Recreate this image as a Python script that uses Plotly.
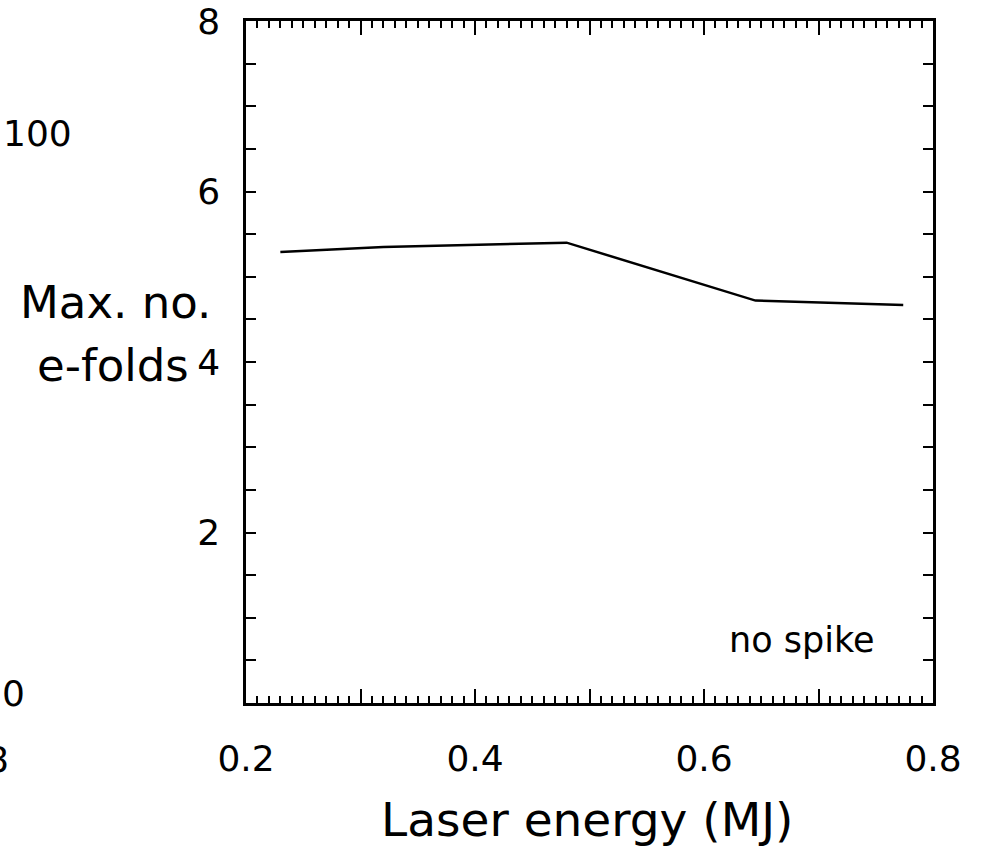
import plotly.graph_objects as go

# Data
laser_energy = [0.23, 0.32, 0.48, 0.645, 0.774]
max_efolds = [5.29, 5.35, 5.40, 4.72, 4.67]

x_tickvals = [0.2, 0.3, 0.4, 0.5, 0.6, 0.7, 0.8]
x_ticktext = ["0.2", "", "0.4", "", "0.6", "", "0.8"]
y_tickvals = [0, 0.5, 1, 1.5, 2, 2.5, 3, 3.5, 4, 4.5, 5, 5.5, 6, 6.5, 7, 7.5, 8]
y_ticktext = ["", "", "", "", "2", "", "", "", "4", "", "", "", "6", "", "", "", "8"]

FONT = "DejaVu Sans"

# plot area in page pixels
L, R, T, B = 246, 933, 21, 703
W, H = 986, 847

fig = go.Figure()
fig.add_trace(go.Scatter(
    x=laser_energy, y=max_efolds, mode="lines",
    line=dict(color="black", width=2.5), showlegend=False, hoverinfo="skip"))

fig.update_layout(
    width=W, height=H,
    margin=dict(l=L, r=W - R, t=T, b=H - B, pad=0, autoexpand=False),
    paper_bgcolor="white", plot_bgcolor="white",
    font=dict(family=FONT, color="black", size=36),
    xaxis=dict(
        range=[0.2, 0.8], tickmode="array", tickvals=x_tickvals, ticktext=x_ticktext,
        ticks="inside", ticklen=14, tickwidth=2, tickcolor="black",
        minor=dict(dtick=0.01, ticks="inside", ticklen=7, tickwidth=2, tickcolor="black", showgrid=False),
        showline=True, linecolor="black", linewidth=2.5, mirror="ticks",
        showgrid=False, zeroline=False, ticklabelstandoff=22, automargin=False,
        ticklabeloverflow="allow",
        tickfont=dict(size=36, family=FONT)),
    yaxis=dict(
        range=[0, 8], tickmode="array", tickvals=y_tickvals, ticktext=y_ticktext,
        ticks="inside", ticklen=10, tickwidth=2, tickcolor="black",
        showline=True, linecolor="black", linewidth=2.5, mirror="ticks",
        showgrid=False, zeroline=False, ticklabelstandoff=16, automargin=False,
        ticklabeloverflow="allow",
        tickfont=dict(size=36, family=FONT)),
)

PW, PH = float(R - L), float(B - T)


def px(xp):
    return (xp - L) / PW


def py(yp):
    return (B - yp) / PH


annos = [
    dict(text="Laser energy (MJ)", x=px(587), y=py(819), size=47),
    dict(text="Max. no.", x=px(115), y=py(302), size=45),
    dict(text="e-folds", x=px(113), y=py(365), size=45),
    dict(text="100", x=px(37), y=py(134), size=36),
    dict(text="0", x=px(13), y=py(693), size=36),
    dict(text="8", x=px(-3), y=py(759), size=36),
]
for a in annos:
    fig.add_annotation(text=a["text"], xref="paper", yref="paper", x=a["x"], y=a["y"],
                       xanchor="center", yanchor="middle", showarrow=False,
                       font=dict(size=a["size"], family=FONT, color="black"))

fig.add_annotation(text="no spike", xref="x", yref="y", x=0.685, y=0.74,
                   xanchor="center", yanchor="middle", showarrow=False,
                   font=dict(size=35, family=FONT, color="black"))

fig.write_html("out.html", config={"displayModeBar": False},
               post_script="document.body.style.margin='0px';")
